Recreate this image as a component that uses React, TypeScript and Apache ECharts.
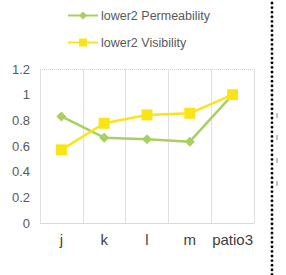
import React, { useEffect, useRef } from "react";
import * as echarts from "echarts";

const categories = ["j", "k", "l", "m", "patio3"];
const permeability = [0.83, 0.665, 0.652, 0.634, 1.0];
const visibility = [0.57, 0.777, 0.842, 0.855, 1.0];
const yTicks = [0, 0.2, 0.4, 0.6, 0.8, 1, 1.2];
const sideMarksY = [113, 135, 158, 181];

export default function App() {
  const ref = useRef<HTMLDivElement>(null);
  useEffect(() => {
    if (!ref.current) return;
    const chart = echarts.init(ref.current, null, { renderer: "svg" });
    const dots: any[] = [];
    for (let y = 3; y < 275; y += 4.6) {
      dots.push({ type: "circle", shape: { cx: 272, cy: y, r: 1.4 }, style: { fill: "#000" }, silent: true });
    }
    const marks = sideMarksY.map((y) => ({
      type: "rect",
      shape: { x: 276, y: y, width: 2, height: 5 },
      style: { fill: "#c4c4c4" },
      silent: true,
    }));
    chart.setOption({
      animation: false,
      backgroundColor: "#fff",
      textStyle: { fontFamily: "Liberation Sans, Arial, sans-serif" },
      legend: {
        orient: "vertical",
        left: 62,
        top: 4,
        itemWidth: 30,
        itemHeight: 10,
        itemGap: 14,
        textStyle: { color: "#595959", fontSize: 12.5, padding: [0, 0, 0, -2] },
        data: ["lower2 Permeability", "lower2 Visibility"],
      },
      grid: { left: 40, right: 32, top: 69, bottom: 52 },
      xAxis: {
        type: "category",
        data: categories,
        boundaryGap: true,
        axisLine: { lineStyle: { color: "#d9d9d9" } },
        axisTick: { show: false },
        axisLabel: { color: "#404040", fontSize: 15, margin: 9, interval: 0 },
        splitLine: { show: true, interval: 0, lineStyle: { color: "#e0e0e0", width: 1 } },
      },
      yAxis: {
        type: "value",
        min: 0,
        max: 1.2,
        interval: 0.2,
        axisLine: { show: true, lineStyle: { color: "#e0e0e0" } },
        axisTick: { show: false },
        axisLabel: {
          color: "#595959",
          fontSize: 13,
          margin: 10,
          formatter: (v: number) => {
            const t = yTicks.find((x) => Math.abs(x - v) < 1e-6);
            return String(t !== undefined ? t : v);
          },
        },
        splitLine: {
          show: true,
          lineStyle: {
            color: ["transparent", "transparent", "transparent", "transparent", "transparent", "transparent", "#cfcfcf"],
            type: "dotted",
          },
        },
      },
      series: [
        {
          name: "lower2 Permeability",
          type: "line",
          data: permeability,
          symbol: "diamond",
          symbolSize: 10,
          lineStyle: { color: "#a9cf62", width: 2.5 },
          itemStyle: { color: "#a9cf62" },
          z: 2,
        },
        {
          name: "lower2 Visibility",
          type: "line",
          data: visibility,
          symbol: "rect",
          symbolSize: 11,
          lineStyle: { color: "#fae418", width: 2.5 },
          itemStyle: { color: "#fae418" },
          z: 3,
        },
      ],
      graphic: [...dots, ...marks],
    });
    return () => chart.dispose();
  }, []);
  return <div ref={ref} style={{ position: "fixed", left: 0, top: 0, width: 286, height: 275 }} />;
}
